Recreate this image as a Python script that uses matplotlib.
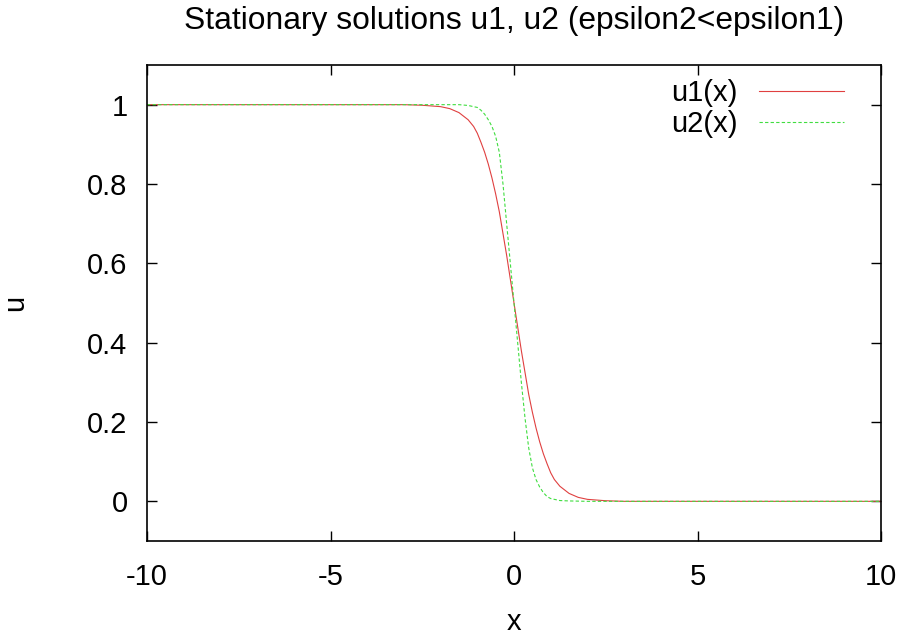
import numpy as np
import matplotlib
matplotlib.use('Agg')
import matplotlib.pyplot as plt

# values
x_u1 = [-10, -3, -2.5, -2, -1.75, -1.5, -1.25, -1.1, -1.0, -0.9, -0.8, -0.7,
        -0.6, -0.5, -0.4, -0.3, -0.2, -0.1, 0,
        0.1, 0.2, 0.3, 0.4, 0.5, 0.6, 0.7, 0.8, 0.9, 1.0, 1.1, 1.25, 1.5,
        1.75, 2, 2.5, 3, 10]
u1 = [1.0, 1.0, 0.9985, 0.995, 0.99, 0.98, 0.962, 0.945, 0.928, 0.905, 0.88, 0.85,
      0.815, 0.775, 0.73, 0.675, 0.62, 0.56, 0.5,
      0.44, 0.38, 0.325, 0.27, 0.225, 0.185, 0.15, 0.12, 0.095, 0.072, 0.055, 0.038, 0.02,
      0.01, 0.005, 0.0015, 0.0, 0.0]

x_u2 = [-10, -1.5, -1.25, -1, -0.9, -0.8, -0.7, -0.6, -0.5, -0.4, -0.3, -0.2, -0.1, 0,
        0.1, 0.2, 0.3, 0.4, 0.5, 0.6, 0.7, 0.8, 0.9, 1, 1.25, 1.5, 2, 10]
u2 = [1.0, 1.0, 0.998, 0.993, 0.986, 0.976, 0.962, 0.945, 0.92, 0.88, 0.8, 0.7, 0.6, 0.5,
      0.4, 0.3, 0.21, 0.135, 0.085, 0.055, 0.036, 0.022, 0.012, 0.007, 0.002, 0.001, 0.0, 0.0]

xticks = [-10, -5, 0, 5, 10]
yticks = [0, 0.2, 0.4, 0.6, 0.8, 1]
ytick_labels = ['0', '0.2', '0.4', '0.6', '0.8', '1']

plt.rcParams['font.family'] = ['Liberation Sans', 'DejaVu Sans']

fig = plt.figure(figsize=(9.09, 6.38), dpi=100)
ax = fig.add_axes([147 / 909, 1 - 541 / 638, (881 - 147) / 909, (541 - 65) / 638])

ax.plot(x_u1, u1, color='#e04040', linewidth=0.8, label='u1(x)')
ax.plot(x_u2, u2, color='#40dd40', linewidth=0.8, linestyle=(0, (3, 2)), label='u2(x)')

ax.set_xlim(-10, 10)
ax.set_ylim(-0.1, 1.1)
ax.set_xticks(xticks)
ax.set_xticklabels([str(t) for t in xticks])
ax.set_yticks(yticks)
ax.set_yticklabels(ytick_labels)
ax.tick_params(direction='in', length=7, width=1, top=True, right=True,
               labelsize=21)
ax.tick_params(axis='x', pad=16)
ax.tick_params(axis='y', pad=14)
for s in ax.spines.values():
    s.set_linewidth(1.2)

ax.text(0.5, 1 + 36 / 476, 'Stationary solutions u1, u2 (epsilon2<epsilon1)',
        transform=ax.transAxes, ha='center', va='baseline', fontsize=22.9)

ax.set_xlabel('x', fontsize=21)
ax.xaxis.label.set_verticalalignment('center')
ax.xaxis.set_label_coords(0.5, (541 - 622) / 476)
ax.set_ylabel('u', fontsize=21)
ax.yaxis.label.set_verticalalignment('center')
ax.yaxis.set_label_coords((15 - 147) / 734, 0.5)

ax.legend(loc='upper right', bbox_to_anchor=((844 - 147) / 734, 1 - 14 / 476),
          frameon=False, fontsize=21, markerfirst=False, borderpad=0,
          borderaxespad=0, handlelength=2.9, handletextpad=0.75, labelspacing=0.1)

fig.savefig('out.png', dpi=100)
